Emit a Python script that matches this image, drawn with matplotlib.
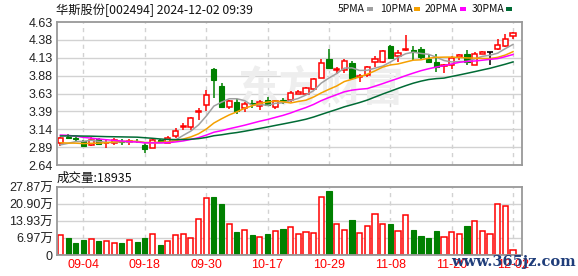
import matplotlib
matplotlib.use("Agg")
import matplotlib.pyplot as plt
from matplotlib.patches import Rectangle
import numpy as np
import pandas as pd

plt.rcParams['font.family'] = ['Noto Sans CJK SC', 'DejaVu Sans']

# ---------------- data ----------------
dates = ["08-30", "09-02", "09-03", "09-04", "09-05", "09-06", "09-09", "09-10", "09-11", "09-12",
         "09-13", "09-18", "09-19", "09-20", "09-23", "09-24", "09-25", "09-26", "09-27", "09-30",
         "10-08", "10-09", "10-10", "10-11", "10-14", "10-15", "10-16", "10-17", "10-18", "10-21",
         "10-22", "10-23", "10-24", "10-25", "10-28", "10-29", "10-30", "10-31", "11-01", "11-04",
         "11-05", "11-06", "11-07", "11-08", "11-11", "11-12", "11-13", "11-14", "11-15", "11-18",
         "11-19", "11-20", "11-21", "11-22", "11-25", "11-26", "11-27", "11-28", "11-29", "12-02"]

opens = [2.94, 3.03, 3.01, 2.97, 2.92, 3.00, 2.94, 2.94, 2.97, 2.96,
         2.98, 2.92, 2.88, 2.99, 2.95, 3.04, 3.17, 3.17, 3.38, 3.47,
         3.97, 3.74, 3.45, 3.52, 3.43, 3.50, 3.46, 3.54, 3.45, 3.54,
         3.55, 3.63, 3.63, 3.70, 3.85, 4.12, 3.96, 3.96, 4.06, 3.87,
         3.89, 4.07, 4.08, 4.29, 4.15, 4.24, 4.24, 4.25, 4.12, 4.07,
         4.02, 4.03, 4.14, 4.18, 4.03, 4.18, 4.21, 4.25, 4.29, 4.44]
highs = [3.03, 3.07, 3.03, 2.99, 3.03, 3.02, 3.00, 3.01, 3.00, 3.00,
         3.00, 2.94, 3.01, 3.00, 3.04, 3.15, 3.22, 3.31, 3.43, 3.69,
         3.99, 3.78, 3.55, 3.56, 3.51, 3.54, 3.55, 3.58, 3.55, 3.57,
         3.67, 3.68, 3.73, 3.85, 4.12, 4.26, 4.01, 4.11, 4.09, 3.91,
         4.02, 4.15, 4.24, 4.31, 4.24, 4.45, 4.30, 4.28, 4.17, 4.19,
         4.05, 4.15, 4.19, 4.24, 4.21, 4.23, 4.21, 4.40, 4.46, 4.49]
lows = [2.90, 3.00, 2.96, 2.90, 2.90, 2.92, 2.88, 2.92, 2.92, 2.92,
        2.94, 2.81, 2.88, 2.95, 2.94, 3.01, 3.13, 3.13, 3.27, 3.39,
        3.57, 3.44, 3.42, 3.35, 3.38, 3.44, 3.41, 3.46, 3.42, 3.49,
        3.51, 3.63, 3.61, 3.69, 3.85, 3.98, 3.91, 3.92, 3.83, 3.80,
        3.87, 4.01, 4.06, 4.12, 4.08, 4.22, 4.10, 4.12, 4.06, 3.94,
        3.92, 3.98, 4.10, 4.03, 4.03, 4.18, 4.03, 4.24, 4.28, 4.39]
closes = [3.01, 3.01, 3.00, 2.91, 2.99, 2.93, 2.95, 2.99, 2.96, 2.97,
          2.97, 2.86, 2.99, 2.96, 3.01, 3.12, 3.18, 3.29, 3.39, 3.62,
          3.82, 3.45, 3.53, 3.39, 3.49, 3.49, 3.51, 3.47, 3.53, 3.53,
          3.64, 3.66, 3.71, 3.83, 4.06, 3.99, 3.97, 4.09, 3.85, 3.88,
          4.00, 4.12, 4.23, 4.13, 4.20, 4.26, 4.23, 4.14, 4.07, 4.00,
          4.03, 4.13, 4.17, 4.07, 4.18, 4.21, 4.21, 4.31, 4.39, 4.47]
# closes of the 29 sessions before the window (estimated from the MA lines)
prior_closes = [3.00, 2.98, 2.99, 3.02, 3.03, 3.05, 3.04, 3.02, 3.03, 3.02,
                3.10, 3.22, 3.25, 3.20, 3.18, 3.15, 3.17, 3.14, 3.12, 3.11,
                3.06, 3.01, 2.97, 2.95, 2.91, 2.90, 2.88, 2.89, 2.92]
# volume, unit: 万 (10k hands)
volumes = [8.06, 6.97, 4.92, 6.15, 6.56, 5.74, 5.60, 4.78, 4.92, 6.01,
           5.33, 6.97, 8.47, 4.10, 5.60, 8.06, 8.47, 6.97, 14.62, 23.2,
           23.6, 20.9, 12.57, 9.43, 10.25, 8.20, 7.24, 8.61, 9.70, 10.52,
           11.34, 8.47, 9.29, 8.88, 23.6, 26.2, 12.7, 10.1, 14.35, 8.88,
           11.75, 16.67, 12.57, 12.7, 9.70, 16.26, 10.25, 7.79, 6.97, 9.84,
           7.24, 9.29, 8.47, 11.89, 13.8, 9.70, 8.47, 20.77, 19.95, 1.8935]

price_ticks = [2.64, 2.89, 3.14, 3.39, 3.63, 3.88, 4.13, 4.38, 4.63]
price_labels = ["2.64", "2.89", "3.14", "3.39", "3.63", "3.88", "4.13", "4.38", "4.63"]
vol_ticks = [0, 6.97, 13.93, 20.90, 27.87]
vol_labels = ["0", "6.97万", "13.93万", "20.90万", "27.87万"]
label_dates = ["09-04", "09-18", "09-30", "10-17", "10-29", "11-08", "11-20", "12-02"]
ma_periods = [5, 10, 20, 30]
ma_names = ["5PMA", "10PMA", "20PMA", "30PMA"]
title_text = "华斯股份[002494] 2024-12-02 09:39"
vol_title = "成交量:18935"

# ---------------- styles ----------------
RED = "#ff0000"
GREEN = "#008000"
BLACK = "#000000"
ma_colors = ["#a0a0a0", "#f5a000", "#ff00ff", "#006b35"]
grid_c = "#d2d2d2"
frame_c = "#999999"
label_c = "#222222"

n = len(closes)
x = np.arange(n)
o = np.array(opens); h = np.array(highs); l = np.array(lows); c = np.array(closes)
prev = np.concatenate([[prior_closes[-1]], c[:-1]])
colors = []
for i in range(n):
    if c[i] > o[i]:
        colors.append(RED)
    elif c[i] < o[i]:
        colors.append(GREEN)
    else:
        colors.append(RED if c[i] > prev[i] else (GREEN if c[i] < prev[i] else BLACK))

allc = pd.Series(list(prior_closes) + list(closes))
mas = [allc.rolling(p).mean().to_numpy()[len(prior_closes):] for p in ma_periods]

W, H = 578, 276
fig = plt.figure(figsize=(W / 100, H / 100), dpi=100)
L, R = 57, 522
ax = fig.add_axes([L / W, 1 - 165 / H, (R - L) / W, 143 / H])
axv = fig.add_axes([L / W, 1 - 255 / H, (R - L) / W, 68 / H])

xlim = (-0.45, 60.17)
label_idx = [dates.index(d) for d in label_dates]

for a in (ax, axv):
    a.set_xlim(*xlim)
    for s in a.spines.values():
        s.set_color(frame_c)
        s.set_linewidth(1.3)
    a.tick_params(length=0)
    for xi in label_idx:
        a.axvline(xi, color=grid_c, lw=1, ls=(0, (3, 3)), zorder=0.5)

# price grid
ax.set_ylim(price_ticks[0], price_ticks[-1])
for t in price_ticks[1:-1]:
    ax.axhline(t, color=grid_c, lw=1, zorder=0.5)
ax.set_yticks(price_ticks, price_labels, fontsize=9, color=label_c,
              family=['Liberation Sans', 'DejaVu Sans'])
ax.tick_params(axis='y', pad=3)
ax.set_xticks([])

# watermark
ax.text(33.9, 3.71, "东方财富", fontsize=30, color="#eeeeee", ha='center', va='center',
        fontweight='bold', zorder=0.6)

bw = 0.68
for i in range(n):
    col = colors[i]
    top = max(o[i], c[i]); bot = min(o[i], c[i])
    if top - bot < 0.004:
        ax.hlines(top, x[i] - bw / 2, x[i] + bw / 2, color=col, lw=1.2, zorder=2)
        ax.vlines(x[i], l[i], h[i], color=col, lw=1.1, zorder=2)
    elif col == RED:
        ax.bar(x[i], top - bot, bottom=bot, width=bw, facecolor='white', edgecolor=col,
               lw=1.1, zorder=2)
        ax.vlines(x[i], top, h[i], color=col, lw=1.1, zorder=2)
        ax.vlines(x[i], l[i], bot, color=col, lw=1.1, zorder=2)
    else:
        ax.vlines(x[i], l[i], h[i], color=col, lw=1.1, zorder=2)
        ax.bar(x[i], top - bot, bottom=bot, width=bw, facecolor=col, edgecolor=col,
               lw=0.8, zorder=2)

for m, col in zip(mas, ma_colors):
    ax.plot(x, m, color=col, lw=1.1, zorder=3)

# volume panel
axv.set_ylim(vol_ticks[0], vol_ticks[-1])
for t in vol_ticks[1:-1]:
    axv.axhline(t, color=grid_c, lw=1, zorder=0.5)
axv.set_yticks(vol_ticks, vol_labels, fontsize=9, color=label_c,
               family=['Liberation Sans', 'Noto Sans CJK SC'])
axv.tick_params(axis='y', pad=3)
for i in range(n):
    col = colors[i]
    if col == GREEN:
        axv.bar(x[i], volumes[i], width=bw, facecolor=col, edgecolor=col, lw=0.8, zorder=2)
    else:
        axv.bar(x[i], volumes[i], width=bw, facecolor='white', edgecolor=RED, lw=1.1, zorder=2)
axv.set_xticks(label_idx, label_dates, fontsize=9, color=RED,
               family=['Liberation Sans', 'DejaVu Sans'])
axv.tick_params(axis='x', pad=3)

# titles and legend
fig.text(56 / W, 1 - 10 / H, title_text, fontsize=8.8, color="#111111", va='center', ha='left')
fig.text(57 / W, 1 - 178 / H, vol_title, fontsize=9, color="#111111", va='center', ha='left')
leg_x = [338, 380, 425, 472]
sq_x = [367, 414, 460, 506]
for name, col, lx, sx in zip(ma_names, ma_colors, leg_x, sq_x):
    fig.text(lx / W, 1 - 9 / H, name, fontsize=7.5, color="#111111", va='center', ha='left')
    fig.patches.append(Rectangle((sx / W, 1 - 11 / H), 6 / W, 4 / H, transform=fig.transFigure,
                                 facecolor=col, edgecolor='none'))

fig.text(513 / W, 1 - 262 / H, "www.365jz.com", fontsize=10.5, color="#1f3d7a", ha='center',
         va='center', family='DejaVu Serif', fontweight='bold')

fig.savefig("out.png", dpi=100)
